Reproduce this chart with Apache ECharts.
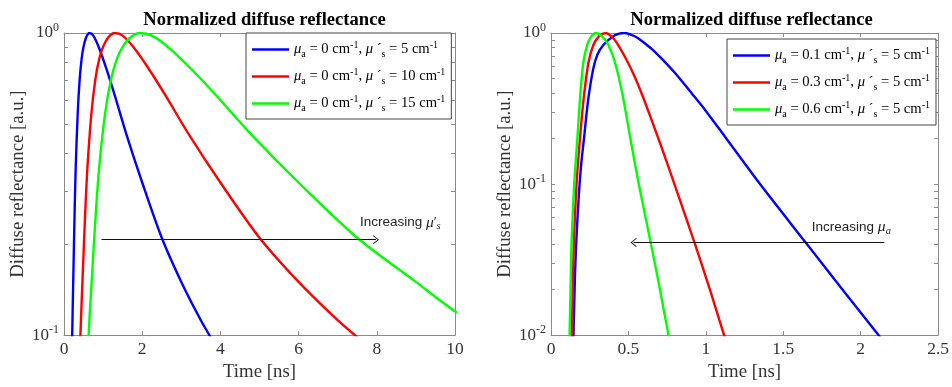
<!DOCTYPE html>
<html><head><meta charset="utf-8">
<script src="https://cdn.jsdelivr.net/npm/echarts@6/dist/echarts.min.js"></script>
<style>html,body{margin:0;padding:0;background:#fff}#c{width:952px;height:387px}</style>
</head><body><div id="c"></div>
<script>
// ---------- data ----------
const leftXTicks = [0, 2, 4, 6, 8, 10];
const rightXTicks = [0, 0.5, 1, 1.5, 2, 2.5];
const leftYTicks = [0.1, 0.2, 0.3, 0.4, 0.5, 0.6, 0.7, 0.8, 0.9, 1];
const rightYTicks = [0.01, 0.02, 0.03, 0.04, 0.05, 0.06, 0.07, 0.08, 0.09, 0.1, 0.2, 0.3, 0.4, 0.5, 0.6, 0.7, 0.8, 0.9, 1];
const leftYLabels = [0.1, 1];
const rightYLabels = [0.01, 0.1, 1];

const leftMuA = ['0', '0', '0'];
const leftMuS = ['5', '10', '15'];
const rightMuA = ['0.1', '0.3', '0.6'];
const rightMuS = ['5', '5', '5'];

const blueLeft = [[0.19,0.06],[0.21,0.1],[0.24,0.16],[0.27,0.25],[0.3,0.36],[0.35,0.54],[0.4,0.7],[0.45,0.82],[0.5,0.9],[0.57,0.97],[0.65,1.0],[0.75,0.98],[0.9,0.89],[1.1,0.75],[1.3,0.62],[1.6,0.46],[2.0,0.32],[2.5,0.21],[3.0,0.15],[3.5,0.112],[3.8,0.096]];
const redLeft = [[0.38,0.06],[0.42,0.1],[0.48,0.16],[0.54,0.25],[0.6,0.36],[0.7,0.54],[0.8,0.7],[0.9,0.82],[1.0,0.9],[1.14,0.97],[1.3,1.0],[1.5,0.98],[1.8,0.89],[2.2,0.75],[2.6,0.62],[3.2,0.46],[4.0,0.32],[5.0,0.21],[6.0,0.15],[7.0,0.112],[7.6,0.096]];
const greenLeft = [[0.57,0.06],[0.63,0.1],[0.72,0.16],[0.81,0.25],[0.9,0.36],[1.05,0.54],[1.2,0.7],[1.35,0.82],[1.5,0.9],[1.71,0.97],[1.95,1.0],[2.25,0.98],[2.7,0.89],[3.3,0.75],[3.9,0.62],[4.8,0.46],[6.0,0.32],[7.5,0.21],[9.0,0.15],[10.0,0.12],[10.5,0.112]];

const blueRight = [[0.13,0.004],[0.145,0.01],[0.155,0.025],[0.165,0.045],[0.18,0.085],[0.195,0.135],[0.213,0.2],[0.24,0.36],[0.273,0.58],[0.3,0.72],[0.337,0.83],[0.4,0.95],[0.44,0.99],[0.475,1.0],[0.51,0.98],[0.55,0.942],[0.593,0.875],[0.65,0.785],[0.71,0.685],[0.8,0.545],[0.912,0.395],[1.0,0.305],[1.125,0.205],[1.35,0.1],[1.645,0.041],[1.9,0.019],[2.115,0.01],[2.2,0.0077]];
const redRight = [[0.125,0.004],[0.134,0.01],[0.142,0.025],[0.149,0.044],[0.165,0.1],[0.188,0.205],[0.21,0.36],[0.241,0.63],[0.273,0.83],[0.31,0.95],[0.354,1.0],[0.39,0.95],[0.422,0.87],[0.486,0.67],[0.54,0.515],[0.593,0.38],[0.65,0.265],[0.71,0.18],[0.8,0.098],[0.934,0.039],[1.03,0.0195],[1.125,0.0095],[1.17,0.0072]];
const greenRight = [[0.113,0.004],[0.12,0.01],[0.127,0.022],[0.134,0.044],[0.15,0.1],[0.171,0.205],[0.19,0.4],[0.209,0.64],[0.235,0.84],[0.26,0.95],[0.29,1.0],[0.33,0.95],[0.369,0.84],[0.411,0.65],[0.46,0.4],[0.511,0.205],[0.567,0.1],[0.646,0.04],[0.7,0.021],[0.759,0.01],[0.785,0.0075]];

const leftArrow = [[0.96, 0.207], [7.98, 0.207]];
const rightArrow = [[2.153, 0.0411], [0.533, 0.0411]];
const leftNote = [8.6, 0.236];
const rightNote = [1.94, 0.052];

// ---------- styling ----------
const SERIF = '"Liberation Serif","Times New Roman",serif';
const AXC = '#8a8a8a';
const LBL = '#333';
const colors = ['#0000ff', '#ff0000', '#00ff00'];

const legendRich = {
  t: {fontFamily: SERIF, fontSize: 14.6, color: '#000'},
  m: {fontFamily: SERIF, fontSize: 14.6, color: '#000', fontStyle: 'italic'},
  sub: {fontFamily: SERIF, fontSize: 10, color: '#000', padding: [9, 0, 0, 0]},
  sup: {fontFamily: SERIF, fontSize: 10, color: '#000', padding: [0, 0, 9, 0]}
};
function legendText(a, s) {
  return '{m|μ}{sub|a}{t| = ' + a + ' cm}{sup|-1}{t|, }{m|μ}{t| ´}{sub|s}{t| = ' + s + ' cm}{sup|-1}';
}
const nameMap = {};
['L1','L2','L3'].forEach((n, i) => nameMap[n] = legendText(leftMuA[i], leftMuS[i]));
['R1','R2','R3'].forEach((n, i) => nameMap[n] = legendText(rightMuA[i], rightMuS[i]));

const yRich = {
  b: {fontFamily: SERIF, fontSize: 17, color: LBL},
  s: {fontFamily: SERIF, fontSize: 12, color: LBL, padding: [0, 0, 11, 0]}
};
function yFmt(v) { const e = Math.round(Math.log10(v)); return '{b|10}{s|' + e + '}'; }

const axLine = {show: true, onZero: false, lineStyle: {color: AXC, width: 1}};
const nameStyle = {fontFamily: SERIF, fontSize: 18.8, color: LBL};
function xAxes(gi, max, interval) {
  return [
    {gridIndex: gi, type: 'value', min: 0, max: max, interval: interval, position: 'bottom',
     axisLine: axLine, splitLine: {show: false},
     axisTick: {show: true, inside: true, length: 4, lineStyle: {color: AXC}},
     axisLabel: {fontFamily: SERIF, fontSize: 17.5, color: LBL, margin: 5, showMaxLabel: true},
     name: 'Time [ns]', nameLocation: 'middle', nameGap: 26, nameTextStyle: nameStyle},
    {gridIndex: gi, type: 'value', min: 0, max: max, interval: interval, position: 'top',
     axisLine: axLine, splitLine: {show: false},
     axisTick: {show: true, inside: true, length: 4, lineStyle: {color: AXC}},
     axisLabel: {show: false}}
  ];
}
function yAxes(gi, min, ticks, labels) {
  return [
    {gridIndex: gi, type: 'log', logBase: 10, min: min, max: 1, position: 'left',
     axisLine: axLine, splitLine: {show: false}, minorTick: {show: false},
     axisTick: {show: true, inside: true, length: 4, lineStyle: {color: AXC}, customValues: ticks},
     axisLabel: {customValues: labels, formatter: yFmt, rich: yRich, margin: 5},
     name: 'Diffuse reflectance [a.u.]', nameLocation: 'middle', nameGap: 36, nameTextStyle: nameStyle},
    {gridIndex: gi, type: 'log', logBase: 10, min: min, max: 1, position: 'right',
     axisLine: axLine, splitLine: {show: false}, minorTick: {show: false},
     axisTick: {show: true, inside: true, length: 4, lineStyle: {color: AXC}, customValues: ticks},
     axisLabel: {show: false}}
  ];
}

const arrowHead = 'path://M0,10 L5,0 L10,10 L9,10.6 L5,2.4 L1,10.6 Z';
const noteSans = '"Liberation Sans","Open Sans",Arial,sans-serif';
function noteLabel(fmt) {
  return {show: true, position: 'inside', formatter: fmt,
    rich: {
      t: {fontFamily: noteSans, fontSize: 13.5, color: '#222'},
      m: {fontFamily: SERIF, fontSize: 15.5, fontStyle: 'italic', color: '#222'},
      sub: {fontFamily: SERIF, fontSize: 10.5, fontStyle: 'italic', color: '#222', padding: [8, 0, 0, 0]}
    }};
}

function lineSeries(name, data, color, xi, yi, extra) {
  return Object.assign({
    name: name, type: 'line', data: data, xAxisIndex: xi, yAxisIndex: yi,
    symbol: 'none', smooth: 0.3, clip: true,
    lineStyle: {color: color, width: 2.4}, itemStyle: {color: color}, z: 3
  }, extra || {});
}

const legendCommon = {
  orient: 'vertical', padding: [7, 6, 6, 6], icon: 'rect',
  itemGap: 8, itemWidth: 37, itemHeight: 2.6, backgroundColor: '#fff', borderColor: '#444', borderWidth: 1,
  formatter: n => nameMap[n], textStyle: {rich: legendRich, lineHeight: 18}, selectedMode: false, z: 10
};
const titleStyle = {fontFamily: SERIF, fontSize: 18.6, fontWeight: 'bold', color: '#000'};

const option = {
  animation: false,
  backgroundColor: '#fff',
  title: [
    {text: 'Normalized diffuse reflectance', left: 259.5, top: 6, textAlign: 'center', textStyle: titleStyle},
    {text: 'Normalized diffuse reflectance', left: 746.5, top: 6, textAlign: 'center', textStyle: titleStyle}
  ],
  grid: [
    {left: 64, top: 33, width: 391, height: 304},
    {left: 551, top: 33, width: 391, height: 305}
  ],
  xAxis: xAxes(0, 10, 2).concat(xAxes(1, 2.5, 0.5)),
  yAxis: yAxes(0, 0.1, leftYTicks, leftYLabels).concat(yAxes(1, 0.01, rightYTicks, rightYLabels)),
  legend: [
    Object.assign({data: ['L1','L2','L3'], left: 246, top: 33}, legendCommon),
    Object.assign({data: ['R1','R2','R3'], left: 727, top: 39}, legendCommon)
  ],
  series: [
    lineSeries('L1', blueLeft, colors[0], 0, 0),
    lineSeries('L2', redLeft, colors[1], 0, 0),
    lineSeries('L3', greenLeft, colors[2], 0, 0, {
      markLine: {silent: true, symbol: ['none', arrowHead], symbolSize: [9, 6],
        lineStyle: {color: '#111', width: 1, type: 'solid'}, label: {show: false},
        data: [[{coord: leftArrow[0]}, {coord: leftArrow[1]}]]},
      markPoint: {silent: true, symbol: 'circle', symbolSize: 1, itemStyle: {color: 'rgba(0,0,0,0)'},
        label: noteLabel('{t|Increasing }{m|μ}{t|′}{sub|s}'),
        data: [{coord: leftNote}]}
    }),
    lineSeries('R1', blueRight, colors[0], 2, 2),
    lineSeries('R2', redRight, colors[1], 2, 2),
    lineSeries('R3', greenRight, colors[2], 2, 2, {
      markLine: {silent: true, symbol: ['none', arrowHead], symbolSize: [9, 6],
        lineStyle: {color: '#111', width: 1, type: 'solid'}, label: {show: false},
        data: [[{coord: rightArrow[0]}, {coord: rightArrow[1]}]]},
      markPoint: {silent: true, symbol: 'circle', symbolSize: 1, itemStyle: {color: 'rgba(0,0,0,0)'},
        label: noteLabel('{t|Increasing }{m|μ}{sub|a}'),
        data: [{coord: rightNote}]}
    })
  ]
};
const chart = echarts.init(document.getElementById('c'), null, {renderer: 'canvas'});
chart.setOption(option);
</script></body></html>
